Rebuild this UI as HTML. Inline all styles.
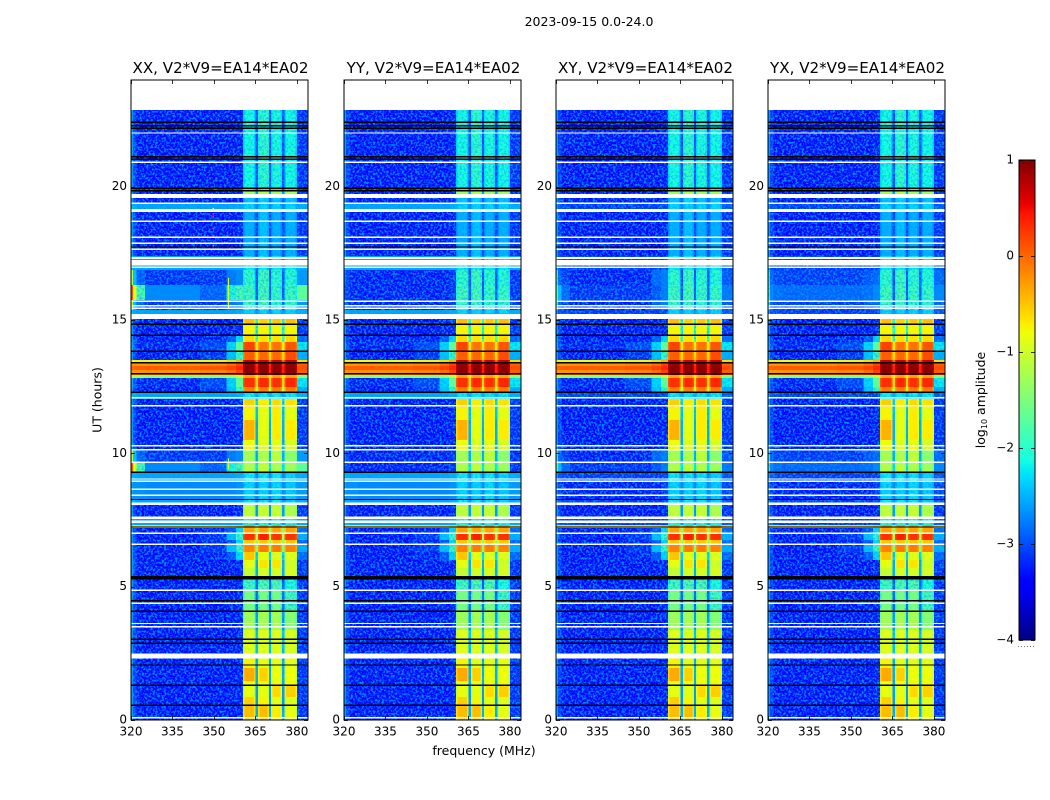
<!DOCTYPE html>
<html>
<head>
<meta charset="utf-8">
<title>2023-09-15 0.0-24.0</title>
<style>
html,body{margin:0;padding:0;background:#fff;}
svg{display:block;}
text{font-family:"DejaVu Sans","Liberation Sans",sans-serif;fill:#000;}
.tick{font-size:12px;}
.title{font-size:15.1px;}
.label{font-size:12.5px;}
</style>
</head>
<body>
<svg id="chart" xmlns="http://www.w3.org/2000/svg" width="1050" height="800" viewBox="0 0 1050 800">
  <defs>
    <filter id="speckle" x="0" y="0" width="1" height="1" color-interpolation-filters="sRGB">
      <feTurbulence type="fractalNoise" baseFrequency="0.45" numOctaves="2" seed="7" result="n"/>
      <feColorMatrix in="n" type="matrix" values="0 0 0 0 0  0 0 0 0 0.55  0 0 0 0 1  4 0 0 0 -1.75"/>
      <feComposite in2="SourceAlpha" operator="in"/>
    </filter>
  </defs>
  <rect width="1050" height="800" fill="#fff"/>
  <text x="589" y="26" text-anchor="middle" class="label">2023-09-15 0.0-24.0</text>
  <text x="484" y="755" text-anchor="middle" class="label">frequency (MHz)</text>
  <text transform="translate(101.5,400) rotate(-90)" text-anchor="middle" class="label">UT (hours)</text>
  <text transform="translate(985,400) rotate(-90)" text-anchor="middle" class="label">log<tspan font-size="8" dy="2">10</tspan><tspan dy="-2"> amplitude</tspan></text>
  <g id="panels"></g>
  <g id="colorbar"></g>
</svg>
<script>
// ---- chart data ----
const polarizations = ['XX', 'YY', 'XY', 'YX'];
const baselineLabel = 'V2*V9=EA14*EA02';
const xTicks = [320, 335, 350, 365, 380];
const yTicks = [0, 5, 10, 15, 20];
const colorbarTicks = [-4, -3, -2, -1, 0, 1];
const freqRange = [320, 384];
const utRange = [0, 24];
const colorRange = [-4, 1];

// channel edges (MHz): 7 background bins, four sub-bands (edge/centre/edge) with gaps, 1 background bin
const freqEdges = [320, 320.7, 322, 325, 345, 354.5, 358, 360.5, 361, 364.5, 365, 365.9, 366.4, 369.4, 369.9, 370.6, 371.1, 374.1, 374.6, 375.5, 376, 379.5, 380, 384];
// which source each channel reads: background bin index, sub-band index (-2 = gap, -1 = background)
const columnBg = [0, 1, 2, 3, 4, 5, 6, -1, -1, -1, -1, -1, -1, -1, -1, -1, -1, -1, -1, -1, -1, -1, 7];
const columnBand = [-1, -1, -1, -1, -1, -1, -1, 0, 0, 0, -2, 1, 1, 1, -2, 2, 2, 2, -2, 3, 3, 3, -1];
// sub-band rolloff at channel edges (dex)
const columnRolloff = [0, 0, 0, 0, 0, 0, 0, 0.2, 0, 0.2, 0, 0.2, 0, 0.2, 0, 0.2, 0, 0.2, 0, 0.2, 0, 0.2, 0];

// log10 amplitude for the 8 background bins (7 left of the sub-bands, 1 right)
const backgrounds = {
  quiet:       [-2.6, -3.1, -3.35, -3.35, -3.35, -3.35, -3.3, -3.2],
  glowLow:     [-2.6, -3.1, -3.35, -3.35, -3.3, -3.0, -2.3, -2.9],
  glowMid:     [-2.6, -3.1, -3.35, -3.35, -3.2, -2.4, -1.9, -2.5],
  glowWide:    [-2.5, -3.0, -3.3, -3.3, -3.1, -2.3, -1.7, -2.2],
  thinStrip:   [-1.0, -1.2, -1.3, -1.4, -1.4, -1.3, -1.0, -1.4],
  hotStrip:    [-0.5, -0.6, -0.65, -0.65, -0.65, -0.6, -0.5, -0.6],
  hotTop:      [-0.75, -0.75, -0.75, -0.8, -0.75, -0.6, -0.4, -0.6],
  hotA:        [-0.2, -0.25, -0.25, -0.22, -0.15, -0.02, 0.2, 0.05],
  hotB:        [0.0, 0.02, 0.05, 0.05, 0.1, 0.2, 0.35, 0.15],
  lightRow:    [-2.4, -2.5, -2.55, -2.55, -2.55, -2.55, -2.5, -2.5],
  lightRow_XY: [-2.6, -3.0, -3.1, -3.15, -3.15, -3.15, -3.1, -3.0],
  lightRow_YX: [-2.6, -3.0, -3.1, -3.15, -3.15, -3.15, -3.1, -3.0],
  stripe:      [-2.5, -2.65, -2.65, -2.7, -2.7, -2.7, -2.65, -2.6],
  stripe_XY:   [-2.7, -3.1, -3.3, -3.3, -3.3, -3.3, -3.15, -3.1],
  stripe_YX:   [-2.7, -3.1, -3.3, -3.3, -3.3, -3.3, -3.15, -3.1],
  burstHigh:   [-3.0, -3.1, -3.3, -3.3, -3.3, -3.3, -3.2, -3.2],
  burstHigh_XX:[0.1, -0.9, -1.8, -2.7, -2.95, -2.1, -1.8, -1.7],
  burstHigh_XY:[-1.7, -2.4, -2.9, -3.2, -3.2, -3.0, -2.8, -2.8],
  burstHigh_YX:[-1.9, -2.7, -2.85, -2.9, -2.9, -2.85, -2.7, -2.7],
  burstLow:    [-2.8, -3.1, -3.3, -3.3, -3.3, -3.3, -3.2, -3.2],
  burstLow_XX: [-1.2, -2.4, -2.95, -3.2, -3.2, -2.8, -2.7, -2.6],
  burstLow_XY: [-1.9, -2.9, -3.15, -3.3, -3.3, -2.9, -2.8, -3.0],
  burstLow_YX: [-2.0, -2.9, -3.1, -3.15, -3.15, -3.0, -2.9, -2.9]
};

// rows: start UT, end UT, background name, sub-band 1-4 level, gap level
const rows = [
  [0, 0.56, 'quiet', -0.45, -0.45, -0.7, -0.85, -2.5],
  [0.56, 0.86, 'quiet', -0.55, -0.75, -0.85, -0.9, -2.6],
  [0.86, 1.28, 'quiet', -0.85, -0.85, -0.6, -0.55, -2.6],
  [1.28, 1.46, 'quiet', -0.8, -0.8, -0.8, -0.8, -2.5],
  [1.46, 1.95, 'quiet', -0.35, -0.55, -0.8, -0.8, -2.5],
  [1.95, 2.5, 'quiet', -0.75, -0.85, -0.85, -0.85, -2.5],
  [2.5, 3.38, 'quiet', -0.9, -0.9, -0.9, -0.95, -2.4],
  [3.38, 4.13, 'quiet', -1.3, -1.25, -1.25, -1.45, -2.6],
  [4.13, 4.88, 'quiet', -1.55, -1.55, -1.55, -1.85, -2.9],
  [4.88, 5.27, 'quiet', -1.85, -1.75, -1.75, -2.05, -3.0],
  [5.27, 5.7, 'quiet', -1.05, -0.95, -0.95, -0.95, -2.5],
  [5.7, 6.0, 'quiet', -0.85, -0.65, -0.65, -1.0, -2.5],
  [6.0, 6.3, 'glowLow', -0.5, -0.85, -0.9, -0.9, -2.3],
  [6.3, 6.56, 'glowMid', -0.15, -0.1, -0.1, -0.15, -1.4],
  [6.56, 6.75, 'glowLow', -0.5, -0.5, -0.5, -0.5, -1.4],
  [6.75, 6.98, 'glowMid', 0.3, 0.4, 0.3, 0.3, -1.2],
  [6.98, 7.2, 'glowLow', -0.3, -0.3, -0.3, -0.3, -1.4],
  [7.2, 7.31, 'hotStrip', -0.2, -0.2, -0.2, -0.2, -0.6],
  [7.31, 7.54, 'lightRow', -2.0, -2.0, -2.0, -2.1, -2.6],
  [7.54, 8.06, 'quiet', -1.1, -1.05, -1.05, -1.2, -2.6],
  [8.06, 8.27, 'lightRow', -2.2, -2.2, -2.2, -2.3, -2.6],
  [8.27, 8.93, 'stripe', -2.3, -2.3, -2.25, -2.35, -2.7],
  [8.93, 9.29, 'lightRow', -2.2, -2.2, -2.2, -2.3, -2.7],
  [9.29, 9.64, 'burstHigh', -1.2, -1.1, -1.2, -1.3, -2.2],
  [9.64, 10.13, 'burstLow', -1.25, -1.2, -1.1, -1.4, -2.5],
  [10.13, 10.5, 'quiet', -0.8, -0.9, -0.85, -0.95, -2.5],
  [10.5, 11.25, 'quiet', -0.4, -0.85, -0.7, -0.7, -2.5],
  [11.25, 11.74, 'quiet', -0.75, -0.85, -0.7, -0.85, -2.4],
  [11.74, 12.04, 'quiet', -0.55, -0.7, -0.6, -0.65, -2.3],
  [12.04, 12.26, 'lightRow', -2.2, -2.2, -2.2, -2.2, -2.5],
  [12.26, 12.49, 'glowMid', -0.1, -0.1, -0.1, -0.1, -1.2],
  [12.49, 12.83, 'glowWide', 0.3, 0.35, 0.3, 0.35, -0.6],
  [12.83, 12.94, 'thinStrip', -0.3, -0.3, -0.3, -0.3, -0.7],
  [12.94, 13.13, 'hotA', 0.95, 0.95, 0.95, 0.95, 0.35],
  [13.13, 13.28, 'hotB', 0.95, 0.95, 0.95, 0.95, 0.4],
  [13.28, 13.4, 'hotA', 0.9, 0.9, 0.9, 0.9, 0.3],
  [13.4, 13.5, 'hotTop', 0.7, 0.7, 0.7, 0.7, 0.0],
  [13.5, 13.84, 'glowMid', 0.05, 0.0, 0.0, 0.15, -0.6],
  [13.84, 14.18, 'glowWide', 0.2, -0.05, -0.05, 0.1, -0.7],
  [14.18, 14.44, 'glowLow', -0.6, -0.65, -0.65, -0.6, -1.8],
  [14.44, 14.85, 'quiet', -0.75, -0.75, -0.75, -0.75, -2.1],
  [14.85, 15.04, 'quiet', -0.45, -0.55, -0.5, -0.45, -2.1],
  [15.04, 15.38, 'lightRow', -2.3, -2.3, -2.3, -2.3, -2.6],
  [15.38, 15.75, 'burstLow', -1.9, -1.85, -1.95, -1.95, -3.0],
  [15.75, 16.31, 'burstHigh', -1.85, -1.8, -1.9, -1.9, -3.0],
  [16.31, 16.88, 'burstLow', -1.95, -1.85, -1.95, -2.0, -3.05],
  [16.88, 17.4, 'lightRow', -2.2, -2.2, -2.2, -2.2, -2.8],
  [17.4, 19.05, 'quiet', -2.5, -2.4, -2.5, -2.5, -3.1],
  [19.05, 19.38, 'lightRow', -2.3, -2.3, -2.3, -2.3, -2.7],
  [19.38, 19.73, 'quiet', -2.4, -2.3, -2.4, -2.4, -2.9],
  [19.73, 19.85, 'quiet', -1.3, -1.2, -1.3, -1.3, -2.6],
  [19.85, 22.88, 'quiet', -2.1, -1.95, -2.05, -2.1, -3.05]
];

// sub-band level adjustment per polarization (dex)
const bandShiftXX = [0, 0, 0, 0];
const bandShiftYY = [0, 0, 0, 0];
const bandShiftXY = [0, 0, 0, 0];
const bandShiftYX = [0, 0, 0, 0];

// narrowband interference seen only in XX: isolated spots and short vertical streaks
const rfiSpotFreq = [349.4, 349.4, 349.4, 349.4, 349.4, 349.4];
const rfiSpotUT = [19.2, 19.01, 18.9, 18.45, 18.19, 17.81];
const rfiSpotLevel = [-0.8, 0.2, 0.3, 0.2, 0.2, -0.2];
const rfiStreakFreq = [355, 355];
const rfiStreakStart = [15.44, 9.4];
const rfiStreakEnd = [16.57, 9.8];
const rfiStreakLevel = [-0.9, -0.9];

// flagged times: missing data (white) and zeroed data (black), in UT hours
const whiteLines = [0.09, 3.5, 3.62, 4.38, 4.86, 5.31, 6.59, 7.0, 8.43, 8.65, 8.95, 9.04, 9.66, 10.14, 10.28, 11.78, 12.08, 15.44, 15.53, 15.7, 16.98, 17.65, 17.88, 18.1, 18.7, 19.38, 20.91, 22.01];
const whiteStart = [2.31, 7.38, 7.54, 8.06, 15.04, 17.05, 17.29, 19.05, 19.58, 22.88];
const whiteEnd = [2.49, 7.48, 7.63, 8.15, 15.23, 17.25, 17.37, 19.16, 19.73, 24];
const blackLines = [0.55, 1.3, 2.06, 2.88, 3.03, 4.08, 4.47, 7.24, 8.27, 9.29, 12.29, 12.98, 13.4, 13.83, 14.43, 14.84, 17.74, 19.85, 19.94, 21.03, 21.12, 22.19, 22.29, 22.41];
const blackStart = [5.27];
const blackEnd = [5.4];

// ---- layout and scales ----
const SVGNS = 'http://www.w3.org/2000/svg';
const panelLefts = [131, 344, 556, 768];
const panelWidth = 177;
const plotTop = 80;
const plotBottom = 720;
const bandShifts = [bandShiftXX, bandShiftYY, bandShiftXY, bandShiftYX];
const lineThickness = 0.05;
const speckleBelow = -2.75;
const softSpeckleBelow = -1.7;

function xScale(panelIndex, f) {
  return panelLefts[panelIndex] + (f - freqRange[0]) / (freqRange[1] - freqRange[0]) * panelWidth;
}
function yScale(h) {
  return plotBottom - (h - utRange[0]) / (utRange[1] - utRange[0]) * (plotBottom - plotTop);
}
function lerp(t, stops) {
  if (t <= stops[0][0]) return stops[0][1];
  for (let i = 1; i < stops.length; i++) {
    if (t <= stops[i][0]) {
      const a = stops[i - 1], b = stops[i];
      return a[1] + (b[1] - a[1]) * (t - a[0]) / (b[0] - a[0]);
    }
  }
  return stops[stops.length - 1][1];
}
function jet(v) {
  const t = Math.max(0, Math.min(1, (v - colorRange[0]) / (colorRange[1] - colorRange[0])));
  const r = lerp(t, [[0.35, 0], [0.66, 1], [0.89, 1], [1, 0.5]]);
  const g = lerp(t, [[0.125, 0], [0.375, 1], [0.64, 1], [0.91, 0]]);
  const b = lerp(t, [[0, 0.5], [0.11, 1], [0.34, 1], [0.65, 0]]);
  return 'rgb(' + Math.round(r * 255) + ',' + Math.round(g * 255) + ',' + Math.round(b * 255) + ')';
}
function svgEl(tag, parent) {
  const el = document.createElementNS(SVGNS, tag);
  parent.appendChild(el);
  return el;
}
function setAll(el, attrs) {
  for (const k in attrs) el.setAttribute(k, attrs[k]);
}
function cellValue(row, col, bg, shift) {
  if (columnBg[col] >= 0) return bg[columnBg[col]];
  const band = columnBand[col];
  if (band === -2) return row[7];
  return row[3 + band] + shift[band] - columnRolloff[col];
}

// ---- panels ----
const panelsRoot = document.getElementById('panels');
polarizations.forEach(function (pol, p) {
  const g = svgEl('g', panelsRoot);
  
  

  const heat = svgEl('g', g);
  
  
  heat.setAttribute('shape-rendering', 'crispEdges');

  const speckle = svgEl('g', g);
  
  
  speckle.setAttribute('filter', 'url(#speckle)');
  speckle.setAttribute('shape-rendering', 'crispEdges');

  const softSpeckle = svgEl('g', g);
  
  
  softSpeckle.setAttribute('filter', 'url(#speckle)');
  softSpeckle.setAttribute('opacity', '0.45');
  softSpeckle.setAttribute('shape-rendering', 'crispEdges');

  rows.forEach(function (row) {
    const bg = backgrounds[row[2] + '_' + pol] || backgrounds[row[2]];
    const yTop = yScale(row[1]);
    const yBot = yScale(row[0]);
    for (let c = 0; c < freqEdges.length - 1; c++) {
      const v = cellValue(row, c, bg, bandShifts[p]);
      const x0 = xScale(p, freqEdges[c]);
      const x1 = xScale(p, freqEdges[c + 1]);
      const cell = svgEl('rect', heat);
      
      
      setAll(cell, { x: x0, y: yTop, width: x1 - x0, height: yBot - yTop, fill: jet(v) });
      if (v < softSpeckleBelow) {
        const sp = svgEl('rect', v < speckleBelow ? speckle : softSpeckle);
        
        
        setAll(sp, { x: x0, y: yTop, width: x1 - x0, height: yBot - yTop, fill: '#fff' });
      }
    }
  });

  if (pol === 'XX') {
    const rfi = svgEl('g', g);
    
    
    rfi.setAttribute('shape-rendering', 'crispEdges');
    rfiSpotFreq.forEach(function (f, i) {
      const spot = svgEl('rect', rfi);
      
      
      setAll(spot, { x: xScale(p, f), y: yScale(rfiSpotUT[i]), width: 1.5, height: 1.5, fill: jet(rfiSpotLevel[i]) });
    });
    rfiStreakFreq.forEach(function (f, i) {
      const streak = svgEl('rect', rfi);
      
      
      setAll(streak, { x: xScale(p, f), y: yScale(rfiStreakEnd[i]), width: 1, height: yScale(rfiStreakStart[i]) - yScale(rfiStreakEnd[i]), fill: jet(rfiStreakLevel[i]) });
    });
  }

  const flags = svgEl('g', g);
  
  
  flags.setAttribute('shape-rendering', 'crispEdges');
  const L = xScale(p, freqRange[0]);
  function flagRect(h0, h1, color, name) {
    const r = svgEl('rect', flags);
    
    
    setAll(r, { x: L, y: yScale(h1), width: panelWidth, height: Math.max(1, yScale(h0) - yScale(h1)), fill: color });
  }
  whiteLines.forEach(function (h) { flagRect(h - lineThickness / 2, h + lineThickness / 2, '#fff', 'missing-data-line'); });
  whiteStart.forEach(function (h, i) { flagRect(h, whiteEnd[i], '#fff', 'missing-data-band'); });
  blackLines.forEach(function (h) { flagRect(h - lineThickness / 2, h + lineThickness / 2, '#000', 'flagged-data-line'); });
  blackStart.forEach(function (h, i) { flagRect(h, blackEnd[i], '#000', 'flagged-data-band'); });

  const frame = svgEl('rect', g);
  
  
  setAll(frame, { x: L, y: plotTop, width: panelWidth, height: plotBottom - plotTop, fill: 'none', stroke: '#000', 'stroke-width': 1 });

  xTicks.forEach(function (t) {
    const x = Math.round(xScale(p, t)) + 0.5;
    [[plotBottom, plotBottom - 4], [plotTop, plotTop + 4]].forEach(function (s) {
      const tick = svgEl('line', g);
      
      
      setAll(tick, { x1: x, x2: x, y1: s[0], y2: s[1], stroke: '#000', 'stroke-width': 0.8 });
    });
    const label = svgEl('text', g);
    
    
    setAll(label, { x: xScale(p, t), y: 735.5, 'text-anchor': 'middle', class: 'tick' });
    label.textContent = String(t);
  });
  yTicks.forEach(function (t) {
    const y = Math.round(yScale(t)) + 0.5;
    [[L, L + 4], [L + panelWidth, L + panelWidth - 4]].forEach(function (s) {
      const tick = svgEl('line', g);
      
      
      setAll(tick, { x1: s[0], x2: s[1], y1: y, y2: y, stroke: '#000', 'stroke-width': 0.8 });
    });
    const label = svgEl('text', g);
    
    
    setAll(label, { x: L - 4, y: yScale(t) + 3.5, 'text-anchor': 'end', class: 'tick' });
    label.textContent = String(t);
  });

  const title = svgEl('text', g);
  
  
  setAll(title, { x: L + panelWidth / 2 + 1, y: 73, 'text-anchor': 'middle', class: 'title' });
  title.textContent = pol + ', ' + baselineLabel;
});

// ---- colorbar ----
const cb = document.getElementById('colorbar');
const cbLeft = 1019, cbWidth = 16, cbTop = 160, cbBottom = 640, cbSteps = 240;
function cbY(v) {
  return cbBottom - (v - colorRange[0]) / (colorRange[1] - colorRange[0]) * (cbBottom - cbTop);
}
const cbRamp = svgEl('g', cb);


cbRamp.setAttribute('shape-rendering', 'crispEdges');
for (let i = 0; i < cbSteps; i++) {
  const v0 = colorRange[0] + (colorRange[1] - colorRange[0]) * i / cbSteps;
  const v1 = colorRange[0] + (colorRange[1] - colorRange[0]) * (i + 1) / cbSteps;
  const seg = svgEl('rect', cbRamp);
  
  
  setAll(seg, { x: cbLeft, y: cbY(v1), width: cbWidth, height: cbY(v0) - cbY(v1) + 0.5, fill: jet((v0 + v1) / 2) });
}
const cbFrame = svgEl('rect', cb);


setAll(cbFrame, { x: cbLeft, y: cbTop, width: cbWidth, height: cbBottom - cbTop, fill: 'none', stroke: '#000', 'stroke-width': 1 });
colorbarTicks.forEach(function (t) {
  const y = Math.round(cbY(t)) + 0.5;
  [[cbLeft, cbLeft + 4], [cbLeft + cbWidth, cbLeft + cbWidth - 4]].forEach(function (s) {
    const tick = svgEl('line', cb);
    
    
    setAll(tick, { x1: s[0], x2: s[1], y1: y, y2: y, stroke: '#000', 'stroke-width': 0.8 });
  });
  const label = svgEl('text', cb);
  
  
  setAll(label, { x: cbLeft - 5, y: cbY(t) + 3.5, 'text-anchor': 'end', class: 'tick' });
  label.textContent = (t < 0 ? '\u2212' : '') + Math.abs(t);
});
const cbDots = svgEl('line', cb);


setAll(cbDots, { x1: cbLeft - 1, x2: cbLeft + cbWidth, y1: 646.5, y2: 646.5, stroke: '#777', 'stroke-width': 1, 'stroke-dasharray': '1 2' });
</script>
</body>
</html>
